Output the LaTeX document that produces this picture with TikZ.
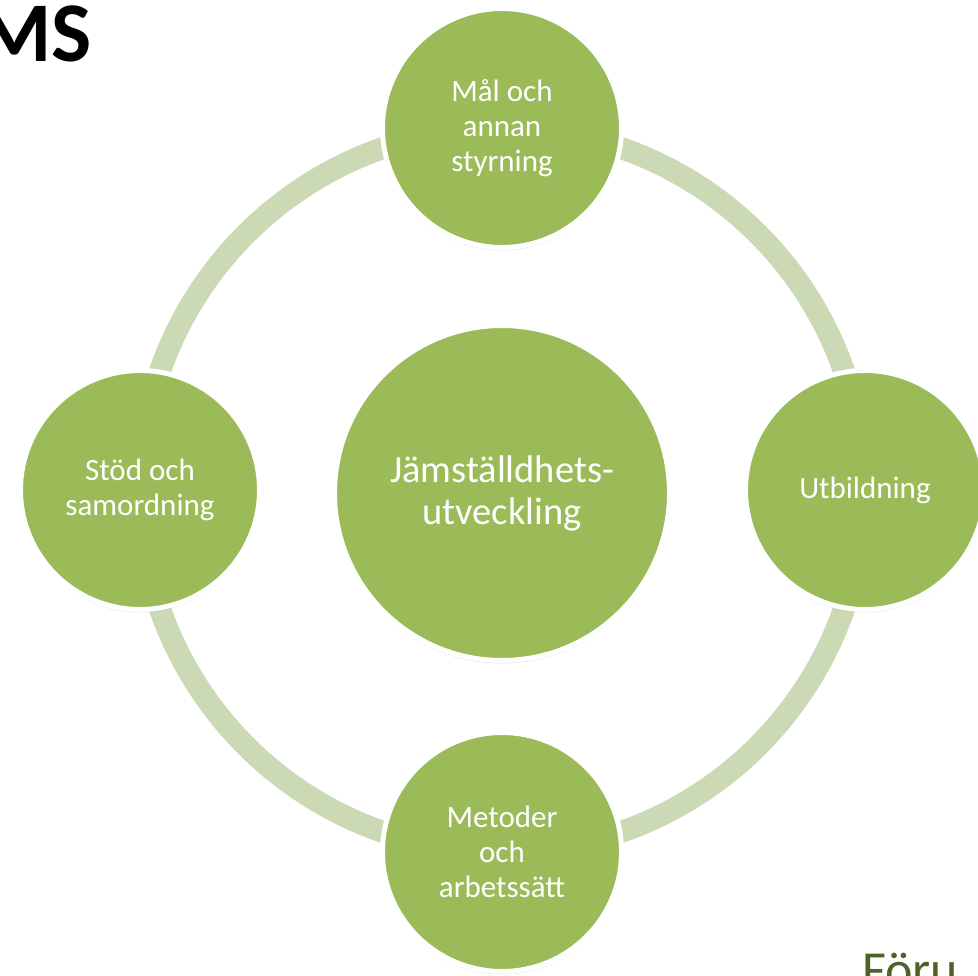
\documentclass[tikz,border=0pt]{standalone}
\usepackage{fontspec}
\setmainfont{Carlito}
\usetikzlibrary{shadows}
\definecolor{leaf}{HTML}{9BBB59}
\definecolor{ringgreen}{HTML}{CBDAB4}
\definecolor{olive}{HTML}{4F6228}
\begin{document}
\begin{tikzpicture}[x=1pt,y=-1pt,
  topic/.style={circle,draw=white,line width=5pt,fill=leaf,minimum size=239pt,
    inner sep=0pt,align=center,text=white,font=\fontsize{31}{35}\selectfont,
    drop shadow={opacity=0.2,shadow xshift=0pt,shadow yshift=-3pt}},
  hub/.style={topic,minimum size=335pt,font=\fontsize{38.5}{42}\selectfont}]
\clip (0,0) rectangle (978,976);
\coordinate (ring) at (502,490);
\draw[ringgreen,line width=22pt] (ring) circle[radius=362pt];
\node[hub] (jam) at (502,493) {Jämställdhets-\\utveckling};
\node[topic] (mal) at (502,128) {Mål och\\annan\\styrning};
\node[topic] (utb) at (865,490) {Utbildning};
\node[topic] (met) at (502,852) {Metoder\\och\\arbetssätt};
\node[topic] (sto) at (140,490) {Stöd och\\samordning};
\node[anchor=base east,inner sep=0pt,font=\fontsize{85}{85}\selectfont\bfseries] (ms) at (92,62) {MS};
\node[anchor=base west,inner sep=0pt,text=olive,font=\fontsize{52}{52}\selectfont] (foru) at (862,987) {Föru};
\end{tikzpicture}
\end{document}
